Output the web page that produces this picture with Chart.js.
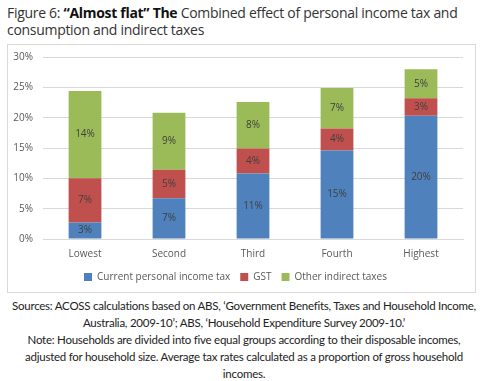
<!DOCTYPE html>
<html lang="en">
<head>
<meta charset="UTF-8">
<title>Figure 6</title>
<script src="https://cdn.jsdelivr.net/npm/chart.js"></script>
<style>
  html, body { margin: 0; padding: 0; background: #fff; }
  body { width: 488px; height: 381px; position: relative; font-family: 'Open Sans', sans-serif; color: #222; }
  .title { position: absolute; left: 7px; top: 4px; width: 470px; font-size: 14px; line-height: 17px; color: #333; letter-spacing: -0.3px; }
  .title b { color: #111; }
  .box { position: absolute; left: 7px; top: 44px; width: 469px; height: 249px; border: 1px solid #d9d9d9; box-sizing: border-box; }
  .box canvas { display: block; }
  .notes { position: absolute; left: 0; top: 297px; width: 488px; text-align: center; font-family: Lato, sans-serif; font-size: 11.5px; letter-spacing: -0.25px; line-height: 17px; color: #222; white-space: nowrap; }
</style>
</head>
<body>

<div class="title">Figure 6: <b>“Almost flat” The</b> Combined effect of personal income tax and consumption and indirect taxes</div>

<div class="box">
  <canvas id="chart" width="467" height="247"></canvas>
</div>

<div class="notes">
  Sources: ACOSS calculations based on ABS, ‘Government Benefits, Taxes and Household Income,<br>
  Australia, 2009-10’; ABS, ‘Household Expenditure Survey 2009-10.’<br>
  Note: Households are divided into five equal groups according to their disposable incomes,<br>
  adjusted for household size. Average tax rates calculated as a proportion of gross household<br>
  incomes.
</div>

<script>
  // categories and series (percent of gross household income)
  const quintiles = ['Lowest', 'Second', 'Third', 'Fourth', 'Highest'];
  const incomeTax = [2.7, 6.7, 10.8, 14.6, 20.3];
  const gst = [7.3, 4.7, 4.1, 3.6, 2.9];
  const otherIndirect = [14.4, 9.4, 7.7, 6.7, 4.8];
  const yTicks = [0, 5, 10, 15, 20, 25, 30];

  const textColor = '#595959';
  const chartFont = { family: "'Open Sans', sans-serif", size: 10 };

  // value labels in the middle of each segment
  const segmentLabels = {
    id: 'segmentLabels',
    afterDatasetsDraw(chart) {
      const ctx = chart.ctx;
      ctx.save();
      ctx.font = "10px 'Open Sans', sans-serif";
      ctx.fillStyle = '#404040';
      ctx.textAlign = 'center';
      ctx.textBaseline = 'middle';
      chart.data.datasets.forEach((ds, i) => {
        chart.getDatasetMeta(i).data.forEach((bar, j) => {
          const y = (bar.y + bar.base) / 2;
          ctx.fillText(Math.round(ds.data[j]) + '%', bar.x, y);
        });
      });
      ctx.restore();
    }
  };

  new Chart(document.getElementById('chart'), {
    type: 'bar',
    data: {
      labels: quintiles,
      datasets: [
        { label: 'Current personal income tax', data: incomeTax, backgroundColor: '#4F81BD' },
        { label: 'GST', data: gst, backgroundColor: '#C0504D' },
        { label: 'Other indirect taxes', data: otherIndirect, backgroundColor: '#9BBB59' }
      ]
    },
    options: {
      responsive: false,
      animation: false,
      devicePixelRatio: 1,
      layout: { padding: { left: 0, right: 12, top: 12, bottom: 0 } },
      datasets: { bar: { barPercentage: 0.39, categoryPercentage: 1, borderWidth: 0 } },
      scales: {
        x: {
          stacked: true,
          afterFit: (axis) => { axis.height = 23; },
          grid: { display: false, drawTicks: false },
          border: { color: '#d9d9d9' },
          ticks: { color: textColor, font: chartFont, padding: 9 }
        },
        y: {
          stacked: true,
          min: 0,
          max: 30,
          afterBuildTicks: (axis) => { axis.ticks = yTicks.map(v => ({ value: v })); },
          afterFit: (axis) => { axis.width = 35; axis.paddingTop = 0; axis.paddingBottom = 0; },
          grid: { color: '#d9d9d9', drawTicks: false },
          border: { display: false },
          ticks: { color: textColor, font: chartFont, padding: 10, callback: v => v + '%' }
        }
      },
      plugins: {
        legend: {
          position: 'bottom',
          labels: { boxWidth: 8, boxHeight: 8, color: textColor, font: chartFont, padding: 10 }
        },
        tooltip: { enabled: false }
      }
    },
    plugins: [segmentLabels]
  });
</script>
</body>
</html>
